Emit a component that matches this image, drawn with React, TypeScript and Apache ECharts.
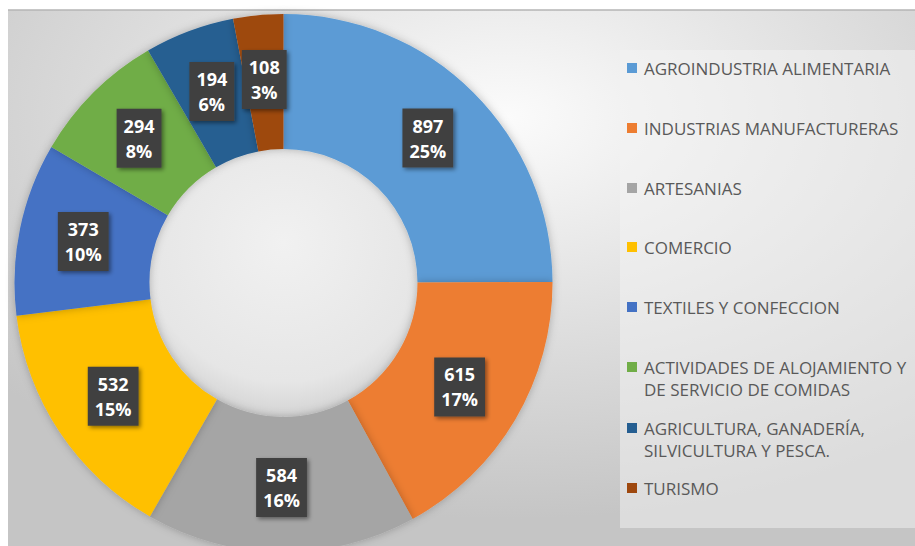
import React, { useEffect, useRef } from "react";
import * as echarts from "echarts";

const categories = [
  "AGROINDUSTRIA ALIMENTARIA",
  "INDUSTRIAS MANUFACTURERAS",
  "ARTESANIAS",
  "COMERCIO",
  "TEXTILES Y CONFECCION",
  "ACTIVIDADES DE ALOJAMIENTO Y DE SERVICIO DE COMIDAS",
  "AGRICULTURA, GANADERÍA, SILVICULTURA Y PESCA.",
  "TURISMO",
];
const legendLines = [
  ["AGROINDUSTRIA ALIMENTARIA"],
  ["INDUSTRIAS MANUFACTURERAS"],
  ["ARTESANIAS"],
  ["COMERCIO"],
  ["TEXTILES Y CONFECCION"],
  ["ACTIVIDADES DE ALOJAMIENTO Y", "DE SERVICIO DE COMIDAS"],
  ["AGRICULTURA, GANADERÍA,", "SILVICULTURA Y PESCA."],
  ["TURISMO"],
];
const values = [897, 615, 584, 532, 373, 294, 194, 108];
const colors = ["#5B9BD5", "#ED7D31", "#A5A5A5", "#FFC000", "#4472C4", "#70AD47", "#255E91", "#9E480E"];

export default function App() {
  const ref = useRef<HTMLDivElement>(null);
  useEffect(() => {
    if (!ref.current) return;
    const chart = echarts.init(ref.current, null, { renderer: "svg" });
    const cx = 283.5;
    const cy = 283;
    const legendX = 627;
    const legendY = [68, 128, 188, 247, 307, 367, 428, 488];
    const legendEls: any[] = [];
    legendLines.forEach((lines, i) => {
      legendEls.push({
        type: "rect",
        shape: { x: legendX, y: legendY[i] - 5, width: 10, height: 10 },
        style: { fill: colors[i] },
        z: 10,
      });
      lines.forEach((ln, j) => {
        legendEls.push({
          type: "text",
          x: legendX + 17,
          y: legendY[i] + j * 22,
          style: {
            text: ln,
            fill: "#595959",
            font: '17px "Open Sans"',
            verticalAlign: "middle",
          },
          z: 10,
        });
      });
    });
    chart.setOption({
      animation: false,
      graphic: [
        {
          type: "rect",
          shape: { x: 8, y: 10, width: 907, height: 536 },
          style: {
            fill: {
              type: "radial",
              x: 0.55,
              y: 0.2,
              r: 0.75,
              colorStops: [
                { offset: 0, color: "#fbfbfb" },
                { offset: 1, color: "#c5c5c5" },
              ],
            },
          },
          z: -10,
        },
        {
          type: "line",
          shape: { x1: 8, y1: 10, x2: 915, y2: 10 },
          style: { stroke: "#b5b5b5", lineWidth: 1.5 },
          z: -9,
        },
        {
          type: "rect",
          shape: { x: 620, y: 50, width: 295, height: 478 },
          style: { fill: "rgba(244,244,244,0.5)" },
          z: -8,
        },
        {
          type: "circle",
          shape: { cx, cy, r: 134 },
          style: {
            fill: {
              type: "radial",
              x: 0.5,
              y: 0.35,
              r: 0.65,
              colorStops: [
                { offset: 0, color: "#f1f1f1" },
                { offset: 0.8, color: "#e6e6e6" },
                { offset: 1, color: "#d4d4d4" },
              ],
            },
          },
          z: -5,
        },
        ...legendEls,
      ],
      series: [
        {
          type: "pie",
          center: [cx, cy],
          radius: [134, 269],
          startAngle: 90,
          clockwise: true,
          percentPrecision: 0,
          avoidLabelOverlap: false,
          itemStyle: {
            shadowBlur: 8,
            shadowColor: "rgba(0,0,0,0.25)",
          },
          label: {
            show: true,
            position: "inside",
            formatter: "{c}\n{d}%",
            color: "#ffffff",
            fontFamily: "Open Sans",
            fontWeight: "bold",
            fontSize: 18,
            lineHeight: 25,
            backgroundColor: "#404040",
            padding: [5, 7, 4, 7],
            shadowBlur: 4,
            shadowOffsetX: 2,
            shadowOffsetY: 2,
            shadowColor: "rgba(0,0,0,0.45)",
          },
          labelLine: { show: false },
          data: categories.map((c, i) => ({
            name: c,
            value: values[i],
            itemStyle: { color: colors[i] },
          })),
        },
      ],
    });
    return () => chart.dispose();
  }, []);
  return (
    <div
      ref={ref}
      style={{ position: "absolute", left: 0, top: 0, width: 915, height: 546 }}
    />
  );
}
